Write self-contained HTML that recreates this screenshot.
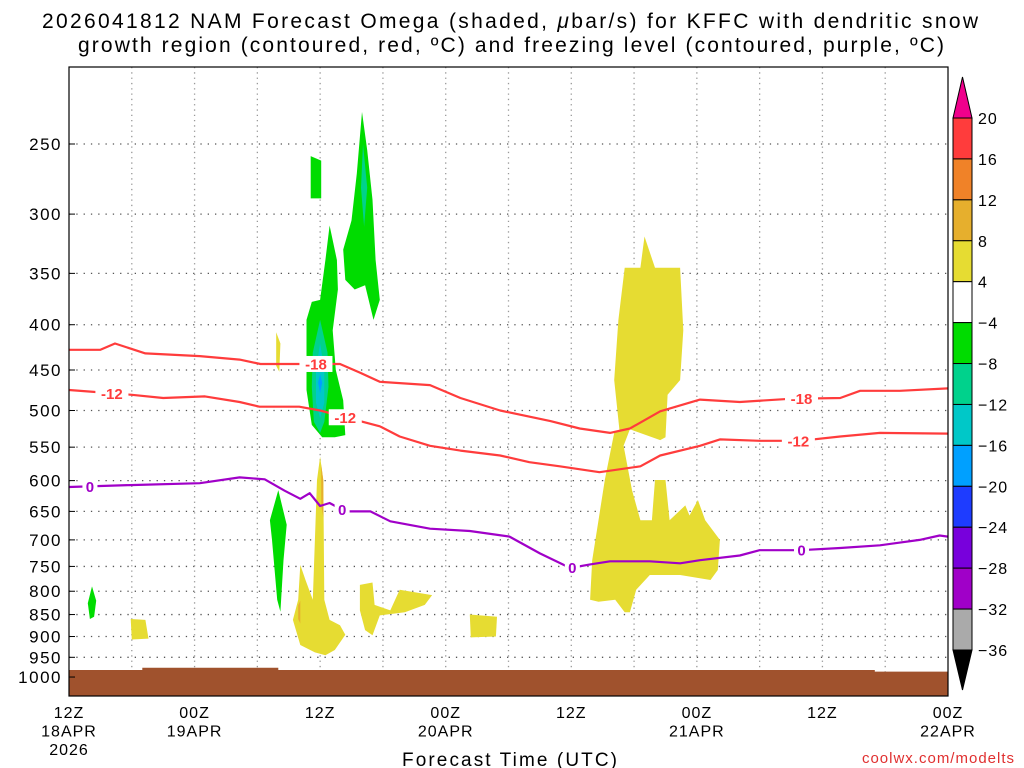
<!DOCTYPE html>
<html><head><meta charset="utf-8"><style>
body{margin:0;background:#fff;}
svg{display:block;font-family:"Liberation Sans",sans-serif;}
</style></head><body>
<svg id="chart" width="1024" height="768">
<text x="42" y="28" font-size="21" textLength="936" lengthAdjust="spacing">2026041812 NAM Forecast Omega (shaded, <tspan font-style="italic">μ</tspan>bar/s) for KFFC with dendritic snow</text>
<text x="78" y="52" font-size="21" textLength="866" lengthAdjust="spacing">growth region (contoured, red, ºC) and freezing level (contoured, purple, ºC)</text>
<g id="plot"></g>
<text x="402" y="766" font-size="19" textLength="215" lengthAdjust="spacing">Forecast Time (UTC)</text>
<text x="1015" y="763" font-size="15" fill="#e03030" text-anchor="end" letter-spacing="1">coolwx.com/modelts</text>
</svg>
<script>
const pTicks=[250,300,350,400,450,500,550,600,650,700,750,800,850,900,950,1000];
const xTickHours=[0,12,24,36,48,60,72,84];
const xTickLabels=[["12Z","18APR","2026"],["00Z","19APR"],["12Z"],["00Z","20APR"],["12Z"],["00Z","21APR"],["12Z"],["00Z","22APR"]];
const cbLevels=[20,16,12,8,4,-4,-8,-12,-16,-20,-24,-28,-32,-36];
const cbColors=["#ff3c3c","#f08228","#e6af2d","#e6dc32","#ffffff","#00dc00","#00d28c","#00c8c8","#00a0ff","#1e3cff","#7800dc","#a000c8","#aaaaaa"];
const surfP=[[0,982],[7,976],[20,982],[77,986],[84,986]];
const red18=[[0,427],[3,427],[4.4,420],[7.3,431],[12.5,434],[16.3,438],[18.3,443],[25.9,443],[27.8,453],[29.7,464],[34.5,468],[37.4,484],[41.2,500],[46,514],[48.8,524],[51.7,530],[53.6,524],[56.5,501],[60.3,486],[64.1,489],[68.9,485],[73.7,484],[75.6,475],[79.4,475],[84,472]];
const red12=[[0,474],[3,477],[6,480],[9,484],[13,482],[16.3,489],[18.2,495],[22,495],[24,500],[27.8,514],[29.7,521],[31.6,535],[34.5,548],[37.4,555],[41.2,562],[44,572],[46.9,578],[50.7,587],[54.6,578],[56.5,562],[60.3,548],[62.2,539],[66,541],[69.9,541],[73.7,535],[77.5,530],[84,531]];
const frz0=[[0,610],[5.8,607],[12.5,604],[16.3,595],[18.7,598],[20.6,616],[22.1,629],[23,620],[24,641],[24.9,636],[26.4,650],[28.8,650],[30.7,667],[34.5,680],[38.3,684],[42.1,694],[45,725],[47.9,753],[49.8,746],[51.7,740],[55.5,740],[58.4,744],[60.3,738],[64.1,729],[66,719],[69.9,719],[73.7,715],[77.5,710],[81.3,700],[83.2,692],[84,694]];
const yellowBlobs=[
[[24,564],[24.3,599],[24.4,818],[24.9,862],[25.9,874],[26.4,896],[25.4,932],[24.5,945],[23.5,938],[22.1,920],[21.4,862],[21.9,818],[22.1,747],[22.6,777],[23.3,818],[23.7,599]],
[[27.8,787],[29,782],[29.2,829],[30.7,841],[31.6,797],[34.7,808],[34,829],[32.1,845],[29.7,852],[29,897],[28.3,885],[27.8,841]],
[[5.9,860],[7.3,862],[7.6,905],[6,907]],
[[38.3,850],[40.9,855],[40.8,900],[38.4,902]],
[[19.8,408],[20.2,420],[20.1,452],[19.8,445]],
[[55,318],[56,345],[58.4,345],[58.7,406],[58.4,462],[57.2,480],[57,536],[56.5,540],[53.6,525],[52.7,540],[52.1,462],[52.5,395],[53.1,345],[54.6,345]],
[[52.1,530],[53.6,525],[53,548],[53.8,615],[54.6,665],[55.7,665],[56,599],[57,599],[57.4,665],[58.9,640],[59.3,657],[60.1,631],[60.8,665],[62.2,700],[62,757],[61.3,777],[58.4,767],[55.5,767],[54.2,797],[53.6,845],[53.1,845],[52.2,818],[50.6,822],[49.8,818],[50,738],[50.6,665],[51.2,599]]
];
const orangeBlobs=[[[24.1,575],[24.3,600],[24.3,660],[24.1,640]],[[21.9,830],[22.1,820],[22.1,870],[21.9,860]]];
const greenBlobs=[
[[24.9,309],[25.6,338],[25.7,365],[25.2,406],[25.5,450],[26.2,487],[26.4,533],[25.4,536],[24.2,536],[23.2,519],[22.7,474],[22.7,395],[23.2,377],[24,375],[24.5,338]],
[[28,230],[28.5,254],[29,289],[29.3,338],[29.7,375],[29.1,395],[28.3,361],[27.3,365],[26.4,356],[26.2,329],[27,305],[27.5,270]],
[[23.1,258],[24.1,261],[24.1,288],[23.1,288]],
[[20,615],[20.8,673],[20.5,738],[20.2,844],[19.9,818],[19.4,700],[19.2,665]],
[[2.2,790],[2.6,820],[2.4,855],[2,860],[1.8,825]]
];
const tealBlobs=[[[24,395],[24.7,430],[24.8,470],[24.4,515],[24,530],[23.4,515],[23.2,470],[23.3,430]],[[28.1,250],[28.5,280],[28.2,310],[27.9,280]]];
const cyanBlobs=[[[24,420],[24.4,450],[24.4,490],[24,510],[23.6,490],[23.6,450]]];
const blueBlobs=[[[24,455],[24.2,465],[24,478],[23.8,465]]];
const labels=[[red18,23.6,"-18","#ff3c3c"],[red18,70,"-18","#ff3c3c"],[red12,4.1,"-12","#ff3c3c"],[red12,26.4,"-12","#ff3c3c"],[red12,69.7,"-12","#ff3c3c"],[frz0,2,"0","#a000c8"],[frz0,26.1,"0","#a000c8"],[frz0,48.1,"0","#a000c8"],[frz0,70,"0","#a000c8"]];

const X0=69,X1=948,Y0=67,Y1=696;
const xs=h=>X0+h*(X1-X0)/84;
const ys=p=>144+384.5*Math.log(p/250);
const NS="http://www.w3.org/2000/svg";
const g=document.getElementById('plot');
function mk(t,a,par){const e=document.createElementNS(NS,t);for(const k in a)e.setAttribute(k,a[k]);(par||g).appendChild(e);return e;}
const pts=arr=>arr.map(d=>xs(d[0]).toFixed(1)+","+ys(d[1]).toFixed(1)).join(" ");
function interp(arr,h){for(let i=1;i<arr.length;i++){if(h<=arr[i][0]){const a=arr[i-1],b=arr[i],t=(h-a[0])/(b[0]-a[0]);return a[1]+t*(b[1]-a[1]);}}return arr[arr.length-1][1];}

const defs=mk('defs',{});const cp=mk('clipPath',{id:'pc'},defs);mk('rect',{x:X0,y:Y0,width:X1-X0,height:Y1-Y0},cp);
const inner=mk('g',{'clip-path':'url(#pc)'});

pTicks.forEach(p=>{const l=mk('line',{x1:X0,x2:X1,y1:ys(p),y2:ys(p),stroke:'#555','stroke-width':1.3,'stroke-dasharray':'1.3 6'},inner);

});
for(let h=6;h<84;h+=6){const l=mk('line',{x1:xs(h),x2:xs(h),y1:Y0,y2:Y1,stroke:'#999','stroke-width':1.3,'stroke-dasharray':'1.3 4'},inner);

}

function blobs(list,color,name){list.forEach(b=>{const e=mk('polygon',{points:pts(b),fill:color},inner);

});}
blobs(yellowBlobs,'#e6dc32','omega-shade-4-8');
blobs(orangeBlobs,'#e6af2d','omega-shade-8-12');
blobs(greenBlobs,'#00dc00','omega-shade-neg4-neg8');
blobs(tealBlobs,'#00d28c','omega-shade-neg8-neg12');
blobs(cyanBlobs,'#00c8c8','omega-shade-neg12-neg16');
blobs(blueBlobs,'#00a0ff','omega-shade-neg16-neg20');

let gp=[];surfP.forEach((d,i)=>{if(i>0)gp.push([d[0],surfP[i-1][1]]);gp.push(d);});
const gpoly=mk('polygon',{points:pts(gp)+" "+xs(84)+","+Y1+" "+xs(0)+","+Y1,fill:'#a0522d'},inner);



function line(arr,color,name){const e=mk('polyline',{points:pts(arr),fill:'none',stroke:color,'stroke-width':2.2,'stroke-linejoin':'round'},inner);

}
line(red18,'#ff3c3c','contour-minus18');
line(red12,'#ff3c3c','contour-minus12');
line(frz0,'#a000c8','freezing-level-0c');
labels.forEach(l=>{const x=xs(l[1]),y=ys(interp(l[0],l[1]));const w=l[2].length*9+6;
mk('rect',{x:x-w/2,y:y-8,width:w,height:16,fill:'#fff'},inner);
const t=mk('text',{x:x,y:y+5.5,'font-size':15,'font-weight':'bold',fill:l[3],'text-anchor':'middle'},inner);t.textContent=l[2];

});

const fr=mk('rect',{x:X0,y:Y0,width:X1-X0,height:Y1-Y0,fill:'none',stroke:'#000','stroke-width':1.2});



pTicks.forEach(p=>{mk('line',{x1:X0,x2:X0+6,y1:ys(p),y2:ys(p),stroke:'#000'});
const t=mk('text',{x:62,y:ys(p)+6,'font-size':17,'text-anchor':'end','letter-spacing':1.5});t.textContent=p;

});
xTickHours.forEach((h,i)=>{xTickLabels[i].forEach((s,j)=>{const t=mk('text',{x:xs(h),y:718+j*18.5,'font-size':16,'text-anchor':'middle','letter-spacing':1});t.textContent=s;

});});

const cb=mk('g',{});


const CX=953,CW=19,CT=118,CS=(650-118)/13;
mk('polygon',{points:`${CX},${CT} ${CX+CW},${CT} ${CX+CW/2},77`,fill:'#f0008c',stroke:'#000'},cb);
cbColors.forEach((c,i)=>mk('rect',{x:CX,y:CT+i*CS,width:CW,height:CS,fill:c,stroke:'#000'},cb));
const bot=CT+cbColors.length*CS;
mk('polygon',{points:`${CX},${bot} ${CX+CW},${bot} ${CX+CW/2},690`,fill:'#000',stroke:'#000'},cb);
cbLevels.forEach((v,i)=>{const t=mk('text',{x:978,y:CT+i*CS+6,'font-size':16,'letter-spacing':1},cb);t.textContent=(v<0?'−':'')+Math.abs(v);

});
</script>
</body></html>
